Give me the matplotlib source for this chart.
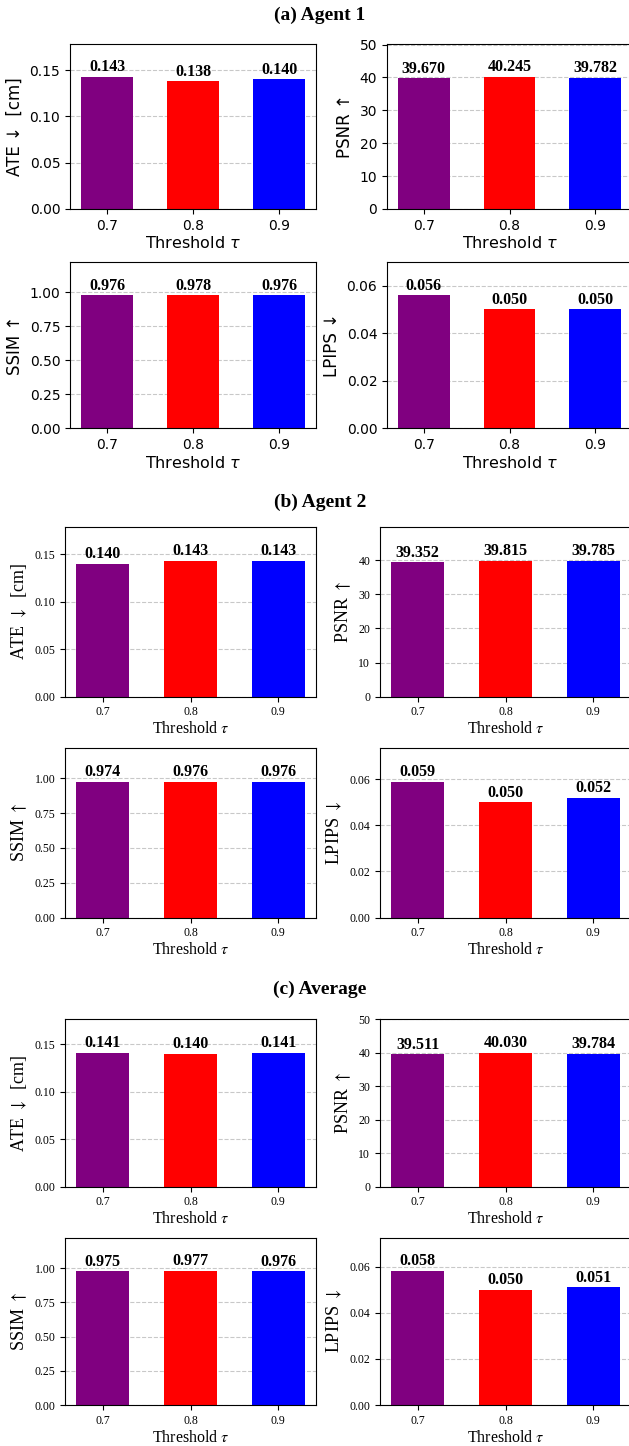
import matplotlib
matplotlib.use('Agg')
import matplotlib.pyplot as plt
from matplotlib.ticker import MaxNLocator

# ---- data ----
thresholds = ['0.7', '0.8', '0.9']
bar_colors = ['purple', 'red', 'blue']

agent1_ate = [0.143, 0.138, 0.140]
agent1_psnr = [39.670, 40.245, 39.782]
agent1_ssim = [0.976, 0.978, 0.976]
agent1_lpips = [0.056, 0.050, 0.050]

agent2_ate = [0.140, 0.143, 0.143]
agent2_psnr = [39.352, 39.815, 39.785]
agent2_ssim = [0.974, 0.976, 0.976]
agent2_lpips = [0.059, 0.050, 0.052]

avg_ate = [0.141, 0.140, 0.141]
avg_psnr = [39.511, 40.030, 39.784]
avg_ssim = [0.975, 0.977, 0.976]
avg_lpips = [0.058, 0.050, 0.051]

section_titles = ['(a) Agent 1', '(b) Agent 2', '(c) Average']
metric_labels_sans = ['ATE \u2193  [cm]', 'PSNR \u2191', 'SSIM \u2191', 'LPIPS \u2193']
metric_labels_serif = ['ATE $\\downarrow$  [cm]', 'PSNR $\\uparrow$',
                       'SSIM $\\uparrow$', 'LPIPS $\\downarrow$']

W, H = 629, 1446
fig = plt.figure(figsize=(W / 100, H / 100), dpi=100)


def ax_at(x0, y0, x1, y1):
    return fig.add_axes([x0 / W, 1 - y1 / H, (x1 - x0) / W, (y1 - y0) / H])


SERIF = ['Liberation Serif', 'DejaVu Serif']
SANS = ['DejaVu Sans']


def draw(ax, vals, ylabel, serif):
    x = list(range(len(thresholds)))
    ax.bar(x, vals, width=0.6, color=bar_colors, zorder=2)
    ax.set_ylim(0, max(vals) * 1.25)
    ax.yaxis.set_major_locator(MaxNLocator(nbins=6, steps=[1, 2, 2.5, 5, 10]))
    ax.set_xticks(x)
    ax.set_xticklabels(thresholds)
    ax.grid(axis='y', linestyle='--', color='#bbbbbb', alpha=0.8, linewidth=0.8)
    ax.set_axisbelow(True)
    for xi, v in zip(x, vals):
        ax.annotate(f'{v:.3f}', (xi, v), xytext=(0, 1.2), textcoords='offset points',
                    ha='center', va='bottom', fontsize=11.5, fontweight='bold',
                    family=SERIF)
    if serif:
        ax.tick_params(labelsize=8.5, labelfontfamily='Liberation Serif')
        ax.set_ylabel(ylabel, fontsize=13, family=SERIF, math_fontfamily='stix')
        ax.set_xlabel('Threshold $\\tau$', fontsize=11.5, family=SERIF,
                      math_fontfamily='stix', labelpad=2)
    else:
        ax.tick_params(labelsize=10)
        ax.set_ylabel(ylabel, fontsize=12, family=SANS)
        ax.set_xlabel('Threshold $\\tau$', fontsize=11.5, family=SANS, labelpad=2)


sections = [
    dict(title=section_titles[0], ty=15, serif=False, labels=metric_labels_sans,
         data=[agent1_ate, agent1_psnr, agent1_ssim, agent1_lpips],
         boxes=[(70, 43.5, 316, 209), (387, 43.5, 632, 209),
                (70, 262, 316, 428), (387, 262, 632, 428)]),
    dict(title=section_titles[1], ty=502, serif=True, labels=metric_labels_serif,
         data=[agent2_ate, agent2_psnr, agent2_ssim, agent2_lpips],
         boxes=[(65, 526.7, 316, 696.7), (380, 526.7, 631, 696.7),
                (65, 747.7, 316, 917.5), (380, 747.7, 631, 917.5)]),
    dict(title=section_titles[2], ty=989, serif=True, labels=metric_labels_serif,
         data=[avg_ate, avg_psnr, avg_ssim, avg_lpips],
         boxes=[(65, 1019.3, 316, 1186.5), (380, 1019.3, 631, 1186.5),
                (65, 1237.7, 316, 1405), (380, 1237.7, 631, 1405)]),
]

for sec in sections:
    fig.text(320 / W, 1 - sec['ty'] / H, sec['title'], ha='center', va='center',
             fontsize=14, fontweight='bold', family=SERIF)
    for box, vals, lab in zip(sec['boxes'], sec['data'], sec['labels']):
        ax = ax_at(*box)
        draw(ax, vals, lab, sec['serif'])

fig.savefig('out.png', dpi=100)
